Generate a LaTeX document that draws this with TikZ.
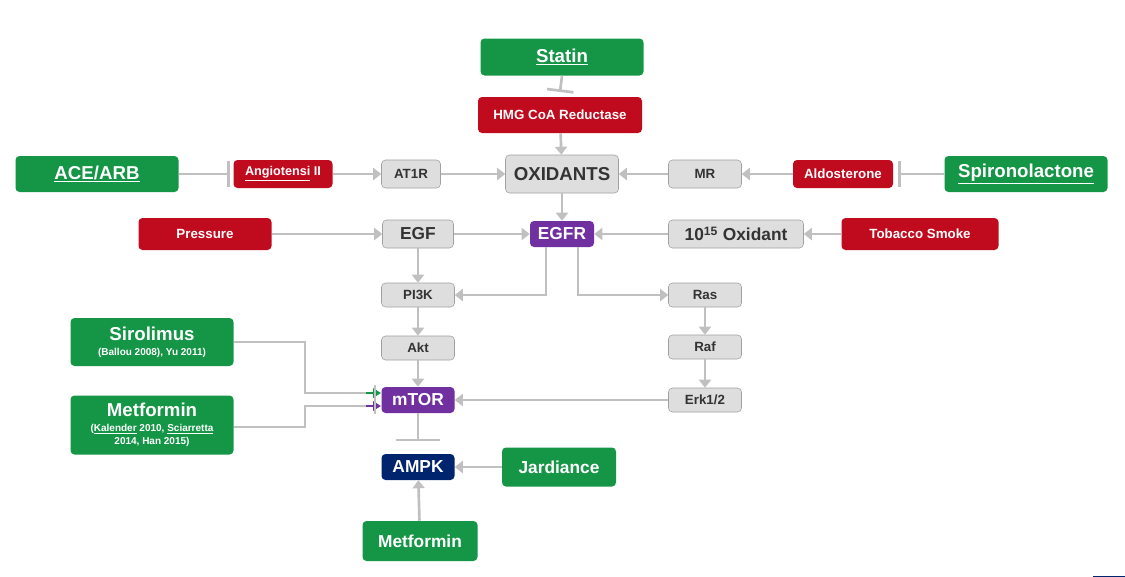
\documentclass[tikz,border=0pt]{standalone}
\usepackage{fontspec}
\setmainfont{Liberation Sans}
\usetikzlibrary{arrows.meta}
\definecolor{gr}{RGB}{20,150,70}
\definecolor{rd}{RGB}{192,10,30}
\definecolor{gy}{RGB}{222,222,222}
\definecolor{gyb}{RGB}{160,160,160}
\definecolor{ln}{RGB}{192,192,192}
\definecolor{pu}{RGB}{112,48,160}
\definecolor{nv}{RGB}{0,36,110}
\begin{document}
\begin{tikzpicture}[x=0.75pt,y=-0.75pt,
 bx/.style={rounded corners=3pt,align=center,font=\bfseries,inner sep=1pt},
 gbox/.style={bx,fill=gr,text=white},
 rbox/.style={bx,fill=rd,text=white},
 ybox/.style={bx,fill=gy,draw=gyb,text=black!80},
 pbox/.style={bx,fill=pu,text=white},
 con/.style={draw=ln,line width=2pt},
 arr/.style={con,-{Triangle[length=6pt,width=9pt]}},
 inh/.style={con,-{Bar[width=20pt,line width=2pt]}}]
\useasboundingbox (0,0) rectangle (1125,576);
\def\B#1#2#3#4#5#6#7{\node[#1,minimum width=#5*0.75pt,minimum height=#6*0.75pt,font=\bfseries#7] (#2) at #3 {#4};}
\B{gbox}{statin}{(562,57)}{\underline{Statin}}{163}{37}{\fontsize{14}{16}\selectfont}
\B{rbox}{hmg}{(560,115)}{HMG CoA Reductase}{164}{36}{\fontsize{10}{12}\selectfont}
\B{gbox}{ace}{(97,174)}{\underline{ACE/ARB}}{163}{36}{\fontsize{14}{16}\selectfont}
\B{rbox}{ang}{(283,174)}{\underline{Angiotensi} II}{99}{28}{\fontsize{9.5}{11}\selectfont}
\B{ybox}{at1r}{(411,174)}{AT1R}{59}{28}{\fontsize{10}{12}\selectfont}
\B{ybox}{oxi}{(562,174)}{OXIDANTS}{113}{38}{\fontsize{14}{16}\selectfont}
\B{ybox}{mr}{(705,174)}{MR}{73}{28}{\fontsize{10}{12}\selectfont}
\B{rbox}{ald}{(843,174)}{Aldosterone}{100}{28}{\fontsize{10}{12}\selectfont}
\B{gbox}{spi}{(1026,174)}{\underline{Spironolactone}}{163}{36}{\fontsize{14}{16}\selectfont}
\B{rbox}{pre}{(205,234)}{Pressure}{133}{32}{\fontsize{10}{12}\selectfont}
\B{ybox}{egf}{(418,234)}{EGF}{71}{28}{\fontsize{13}{15}\selectfont}
\B{pbox}{egfr}{(562,234)}{EGFR}{64}{26}{\fontsize{13}{15}\selectfont}
\B{ybox}{oxd}{(736,234)}{10\textsuperscript{15} Oxidant}{135}{28}{\fontsize{13}{15}\selectfont}
\B{rbox}{tob}{(920,234)}{Tobacco Smoke}{157}{32}{\fontsize{10}{12}\selectfont}
\B{ybox}{pi3k}{(418,295)}{PI3K}{73}{24}{\fontsize{10}{12}\selectfont}
\B{ybox}{ras}{(705,295)}{Ras}{73}{24}{\fontsize{10}{12}\selectfont}
\B{ybox}{akt}{(418,348)}{Akt}{73}{24}{\fontsize{10}{12}\selectfont}
\B{ybox}{raf}{(705,347)}{Raf}{73}{24}{\fontsize{10}{12}\selectfont}
\B{ybox}{erk}{(705,400)}{Erk1/2}{73}{24}{\fontsize{10}{12}\selectfont}
\B{pbox}{mtor}{(418,400)}{mTOR}{73}{26}{\fontsize{13}{15}\selectfont}
\node[gbox,minimum width=163*0.75pt,minimum height=48*0.75pt] (sir) at (152,342) {{\fontsize{14}{16}\selectfont Sirolimus}\\[-1pt]{\fontsize{7.5}{9}\selectfont (Ballou 2008), Yu 2011)}};
\node[gbox,minimum width=163*0.75pt,minimum height=59*0.75pt] (met) at (152,425) {{\fontsize{14}{16}\selectfont Metformin}\\[-1pt]{\fontsize{7.5}{9}\selectfont (\underline{Kalender} 2010, \underline{Sciarretta}}\\[-2pt]{\fontsize{7.5}{9}\selectfont 2014, Han 2015)}};
\node[bx,fill=nv,text=white,minimum width=73*0.75pt,minimum height=26*0.75pt,font=\bfseries\fontsize{13}{15}\selectfont] (ampk) at (418,467) {AMPK};
\B{gbox}{jar}{(559,467)}{Jardiance}{114}{39}{\fontsize{13}{15}\selectfont}
\B{gbox}{met2}{(420,541)}{Metformin}{115}{40}{\fontsize{13}{15}\selectfont}
\fill[nv] (1125,576) -- (1093,576) arc (180:90:32) -- cycle;
% connectors
\draw[inh] (statin.south) -- (560,92);
\draw[arr] (hmg) -- (oxi);
\draw[inh] (ace.east) -- (230,174);
\draw[arr] (ang) -- (at1r);
\draw[arr] (at1r) -- (oxi);
\draw[arr] (mr) -- (oxi);
\draw[arr] (ald) -- (mr);
\draw[inh] (spi.west) -- (898,174);
\draw[arr] (oxi) -- (egfr);
\draw[arr] (pre) -- (egf);
\draw[arr] (egf) -- (egfr);
\draw[arr] (oxd) -- (egfr);
\draw[arr] (tob) -- (oxd);
\draw[arr] (egf) -- (pi3k);
\draw[arr] (egfr.south -| 546,0) |- (pi3k.east);
\draw[arr] (egfr.south -| 578,0) |- (ras.west);
\draw[arr] (ras) -- (raf);
\draw[arr] (raf) -- (erk);
\draw[arr] (erk) -- (mtor);
\draw[arr] (pi3k) -- (akt);
\draw[arr] (akt) -- (mtor);
\draw[con] (sir.east) -- (305,342) -- (305,393) -- (368,393);
\draw[con] (met.east |- 0,427) -- (305,427) -- (305,406) -- (368,406);
\draw[draw=gr,line width=1.5pt,-{Triangle[length=6pt,width=7pt]}] (366,393) -- (381,393);
\draw[draw=pu,line width=1.5pt,-{Triangle[length=6pt,width=7pt]}] (366,406) -- (381,406);
\draw[draw=ln,line width=1.5pt] (375,385) -- (375,414);
\draw[con] (mtor.south) -- (418,440);
\draw[con] (396,440) -- (440,440);
\draw[arr] (jar) -- (ampk);
\draw[arr] (met2) -- (ampk);
\end{tikzpicture}
\end{document}
